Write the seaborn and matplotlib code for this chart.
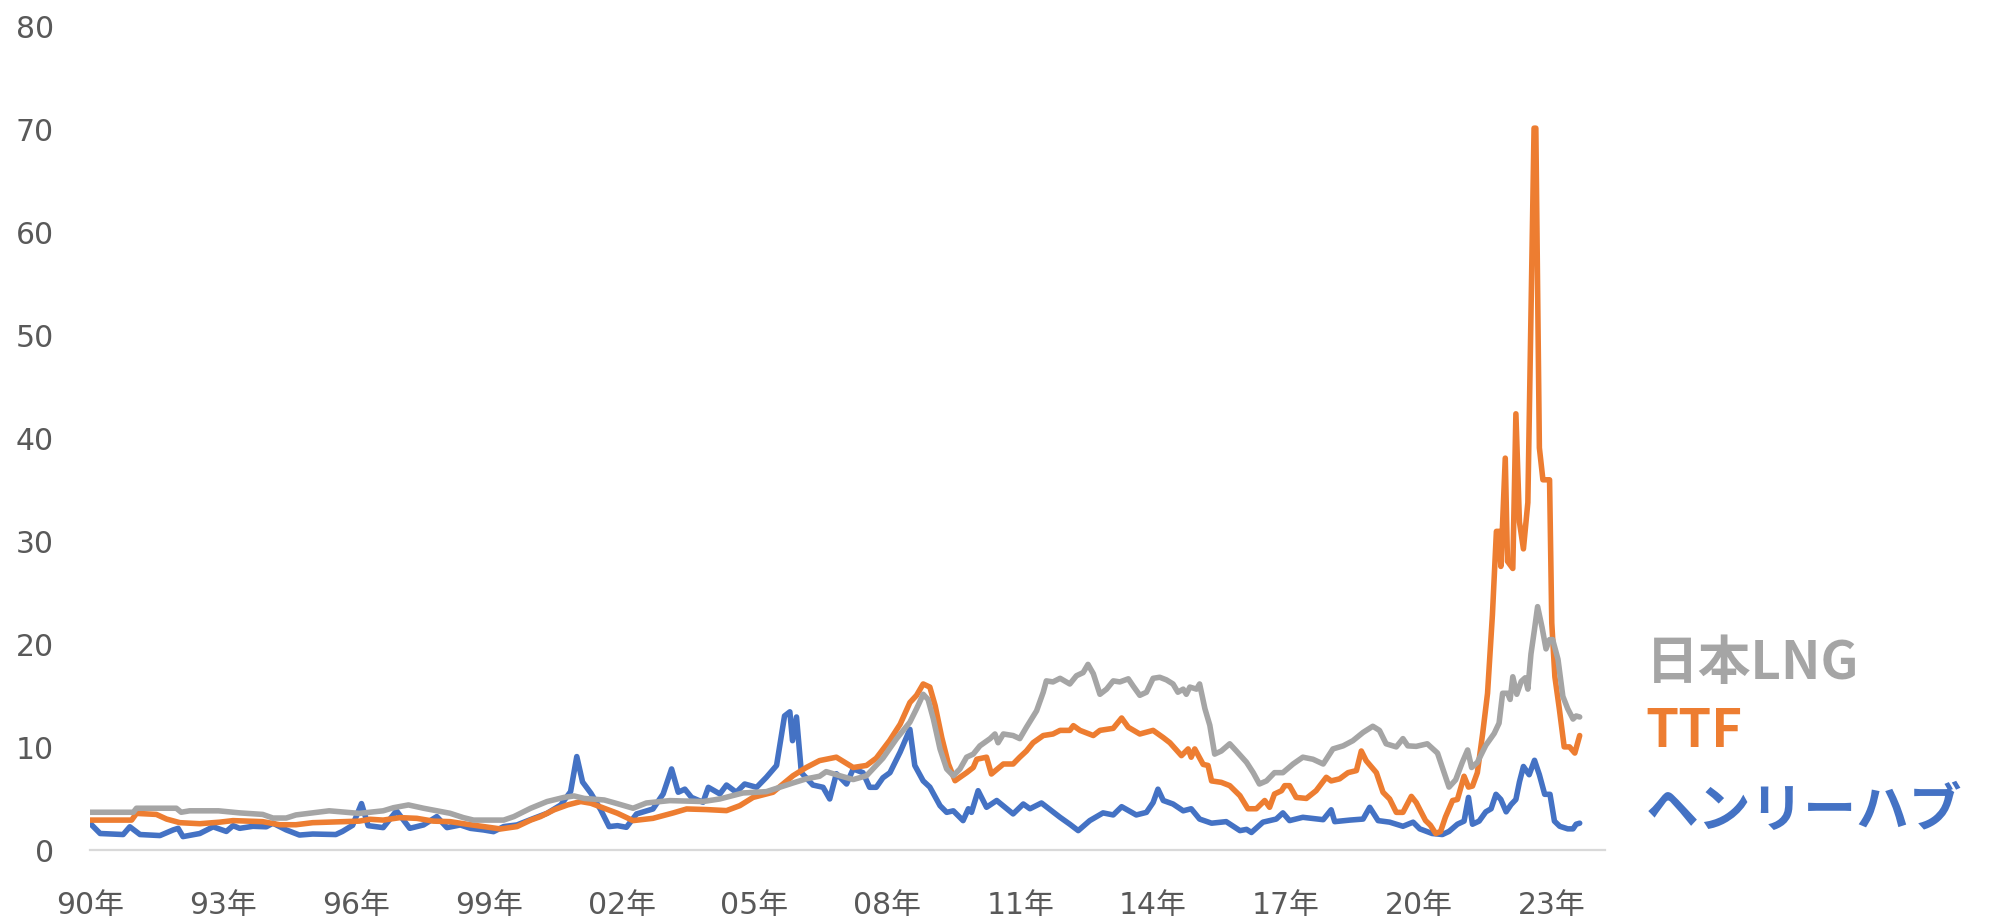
import matplotlib
matplotlib.use("Agg")
import matplotlib.pyplot as plt
import numpy as np
import pandas as pd
import seaborn as sns

# 日本LNG（灰）
lng_year = [1990.0, 1990.98, 1991.05, 1991.95, 1992.06, 1992.25, 1992.9, 1993.38, 1993.9, 1994.13,
            1994.43, 1994.65, 1995.4, 1996.08, 1996.62, 1996.85, 1997.19, 1997.53, 1997.83, 1998.13,
            1998.43, 1998.66, 1999.34, 1999.57, 1999.95, 2000.32, 2000.7, 2000.93, 2001.16, 2001.61,
            2001.9, 2002.26, 2002.56, 2003.09, 2003.84, 2004.22, 2004.74, 2005.27, 2005.57, 2005.87,
            2006.17, 2006.47, 2006.62, 2006.93, 2007.23, 2007.53, 2007.9, 2008.21, 2008.51, 2008.66,
            2008.81, 2008.92, 2009.04, 2009.19, 2009.34, 2009.49, 2009.64, 2009.79, 2009.94, 2010.09,
            2010.32, 2010.43, 2010.5, 2010.62, 2010.84, 2010.99, 2011.14, 2011.37, 2011.52, 2011.59,
            2011.74, 2011.9, 2012.12, 2012.27, 2012.42, 2012.53, 2012.65, 2012.8, 2012.95, 2013.1,
            2013.25, 2013.44, 2013.55, 2013.7, 2013.85, 2014.0, 2014.15, 2014.3, 2014.45, 2014.56,
            2014.68, 2014.75, 2014.83, 2014.98, 2015.05, 2015.17, 2015.28, 2015.39, 2015.54, 2015.73,
            2015.88, 2016.11, 2016.26, 2016.4, 2016.56, 2016.74, 2016.93, 2017.16, 2017.38, 2017.61,
            2017.84, 2018.06, 2018.29, 2018.51, 2018.74, 2018.96, 2019.11, 2019.26, 2019.49, 2019.64,
            2019.75, 2019.94, 2020.19, 2020.42, 2020.57, 2020.68, 2020.83, 2020.98, 2021.1, 2021.19,
            2021.32, 2021.51, 2021.7, 2021.81, 2021.89, 2022.0, 2022.06, 2022.12, 2022.21, 2022.31,
            2022.4, 2022.46, 2022.53, 2022.61, 2022.68, 2022.78, 2022.87, 2022.95, 2023.02, 2023.14,
            2023.25, 2023.36, 2023.48, 2023.55, 2023.63]
lng_price = [3.66, 3.66, 4.05, 4.05, 3.66, 3.8, 3.8, 3.6, 3.45, 3.1,
             3.1, 3.4, 3.8, 3.55, 3.8, 4.1, 4.37, 4.05, 3.8, 3.56,
             3.14, 2.9, 2.9, 3.24, 4.05, 4.7, 5.1, 5.24, 5.0, 4.85,
             4.5, 4.05, 4.56, 4.79, 4.7, 4.95, 5.53, 5.66, 6.08, 6.5,
             6.9, 7.15, 7.6, 7.2, 6.83, 7.2, 8.9, 10.8, 12.4, 13.7,
             15.1, 14.6, 12.7, 9.8, 7.86, 7.2, 7.86, 9.0, 9.3, 10.1,
             10.8, 11.25, 10.4, 11.25, 11.1, 10.8, 11.9, 13.5, 15.3, 16.4,
             16.3, 16.65, 16.1, 16.9, 17.2, 18.0, 17.1, 15.1, 15.6, 16.4,
             16.3, 16.6, 15.9, 15.0, 15.3, 16.65, 16.75, 16.5, 16.1, 15.3,
             15.6, 15.1, 15.8, 15.6, 16.1, 13.7, 12.1, 9.3, 9.6, 10.3,
             9.6, 8.5, 7.5, 6.4, 6.7, 7.5, 7.5, 8.34, 9.0, 8.8,
             8.34, 9.8, 10.1, 10.6, 11.4, 12.0, 11.6, 10.3, 10.0, 10.8,
             10.1, 10.05, 10.3, 9.4, 7.5, 6.1, 6.8, 8.5, 9.7, 8.0,
             8.5, 10.15, 11.3, 12.3, 15.2, 15.2, 14.6, 16.8, 15.1, 16.35,
             16.7, 15.6, 19.0, 21.4, 23.6, 21.6, 19.5, 20.4, 20.4, 18.5,
             14.9, 13.7, 12.7, 13.0, 12.9]

# TTF（橙）
ttf_year = [1990.0, 1990.94, 1991.05, 1991.28, 1991.5, 1991.73, 1992.03, 1992.48, 1992.93, 1993.23,
            1993.9, 1994.28, 1994.65, 1995.03, 1996.08, 1996.32, 1996.62, 1997.0, 1997.38, 1997.75,
            1998.13, 1998.51, 1998.89, 1999.27, 1999.64, 1999.95, 2000.17, 2000.48, 2000.78, 2001.08,
            2001.31, 2001.61, 2001.91, 2002.26, 2002.71, 2003.17, 2003.47, 2003.92, 2004.37, 2004.67,
            2004.97, 2005.42, 2005.87, 2006.17, 2006.47, 2006.85, 2007.23, 2007.53, 2007.75, 2008.05,
            2008.29, 2008.51, 2008.66, 2008.81, 2008.96, 2009.08, 2009.23, 2009.38, 2009.53, 2009.79,
            2009.94, 2010.02, 2010.24, 2010.35, 2010.62, 2010.84, 2010.99, 2011.14, 2011.29, 2011.52,
            2011.74, 2011.9, 2012.12, 2012.2, 2012.35, 2012.65, 2012.8, 2013.1, 2013.29, 2013.44,
            2013.7, 2014.0, 2014.23, 2014.38, 2014.64, 2014.79, 2014.86, 2014.94, 2015.13, 2015.24,
            2015.32, 2015.54, 2015.73, 2015.96, 2016.14, 2016.33, 2016.52, 2016.63, 2016.74, 2016.9,
            2016.97, 2017.08, 2017.23, 2017.46, 2017.68, 2017.91, 2018.02, 2018.21, 2018.4, 2018.59,
            2018.7, 2018.81, 2019.04, 2019.19, 2019.34, 2019.49, 2019.64, 2019.83, 2019.94, 2020.15,
            2020.26, 2020.38, 2020.49, 2020.6, 2020.76, 2020.87, 2021.02, 2021.12, 2021.21, 2021.32,
            2021.44, 2021.55, 2021.66, 2021.75, 2021.81, 2021.85, 2021.95, 2022.0, 2022.12, 2022.19,
            2022.27, 2022.36, 2022.46, 2022.6, 2022.64, 2022.72, 2022.8, 2022.95, 2023.0, 2023.07,
            2023.17, 2023.28, 2023.4, 2023.52, 2023.63]
ttf_price = [2.9, 2.9, 3.55, 3.5, 3.45, 3.0, 2.65, 2.55, 2.7, 2.85,
             2.75, 2.45, 2.45, 2.65, 2.8, 2.98, 2.9, 3.14, 3.07, 2.8,
             2.75, 2.5, 2.27, 2.04, 2.27, 2.9, 3.24, 3.9, 4.37, 4.7,
             4.53, 4.05, 3.56, 2.85, 3.07, 3.6, 3.98, 3.92, 3.82, 4.3,
             5.1, 5.6, 7.2, 8.0, 8.67, 9.0, 8.0, 8.2, 8.9, 10.6,
             12.2, 14.3, 15.0, 16.1, 15.8, 14.0, 10.9, 8.34, 6.72, 7.5,
             8.0, 8.8, 9.0, 7.37, 8.34, 8.34, 9.0, 9.6, 10.4, 11.1,
             11.25, 11.6, 11.6, 12.06, 11.6, 11.1, 11.6, 11.8, 12.8, 11.9,
             11.25, 11.6, 10.9, 10.4, 9.15, 9.8, 9.0, 9.8, 8.3, 8.2,
             6.7, 6.56, 6.24, 5.27, 4.0, 4.0, 4.8, 4.14, 5.43, 5.75,
             6.24, 6.24, 5.1, 5.0, 5.75, 7.05, 6.7, 6.9, 7.5, 7.7,
             9.6, 8.66, 7.5, 5.6, 4.95, 3.65, 3.65, 5.2, 4.6, 2.86,
             2.4, 1.6, 1.8, 3.2, 4.8, 4.9, 7.15, 6.1, 6.2, 7.5,
             11.3, 15.2, 22.8, 30.9, 30.9, 27.5, 38.0, 28.0, 27.3, 42.3,
             31.8, 29.2, 33.7, 70.0, 70.0, 39.0, 35.9, 35.9, 22.0, 16.8,
             13.7, 10.0, 10.0, 9.4, 11.1]

# ヘンリーハブ（青）
hh_year = [1990.0, 1990.23, 1990.75, 1990.9, 1991.13, 1991.58, 1991.88, 1991.99, 1992.1, 1992.48,
           1992.78, 1993.08, 1993.23, 1993.38, 1993.68, 1993.98, 1994.13, 1994.43, 1994.73, 1995.03,
           1995.55, 1995.7, 1995.93, 1996.13, 1996.28, 1996.62, 1996.92, 1997.22, 1997.53, 1997.83,
           1998.06, 1998.36, 1998.59, 1998.89, 1999.11, 1999.34, 1999.64, 2000.02, 2000.32, 2000.63,
           2000.85, 2000.99, 2001.12, 2001.31, 2001.53, 2001.72, 2001.91, 2002.11, 2002.34, 2002.71,
           2002.94, 2003.13, 2003.28, 2003.43, 2003.58, 2003.84, 2003.96, 2004.22, 2004.37, 2004.59,
           2004.78, 2005.05, 2005.27, 2005.5, 2005.68, 2005.8, 2005.86, 2005.95, 2006.06, 2006.32,
           2006.55, 2006.7, 2006.85, 2007.08, 2007.23, 2007.45, 2007.6, 2007.75, 2007.9, 2008.06,
           2008.29, 2008.51, 2008.62, 2008.81, 2008.96, 2009.19, 2009.34, 2009.49, 2009.71, 2009.83,
           2009.9, 2010.05, 2010.24, 2010.47, 2010.84, 2011.07, 2011.22, 2011.48, 2011.9, 2012.12,
           2012.31, 2012.57, 2012.87, 2013.1, 2013.29, 2013.62, 2013.85, 2014.0, 2014.11, 2014.23,
           2014.45, 2014.68, 2014.86, 2015.05, 2015.32, 2015.65, 2015.96, 2016.11, 2016.22, 2016.48,
           2016.78, 2016.93, 2017.08, 2017.38, 2017.84, 2018.02, 2018.1, 2018.44, 2018.74, 2018.89,
           2019.08, 2019.34, 2019.64, 2019.87, 2020.02, 2020.3, 2020.53, 2020.68, 2020.87, 2021.02,
           2021.12, 2021.21, 2021.36, 2021.51, 2021.63, 2021.74, 2021.85, 2021.97, 2022.08, 2022.19,
           2022.27, 2022.36, 2022.49, 2022.61, 2022.72, 2022.84, 2022.96, 2023.06, 2023.18, 2023.36,
           2023.48, 2023.55, 2023.63]
hh_price = [2.6, 1.6, 1.5, 2.25, 1.5, 1.4, 1.95, 2.1, 1.3, 1.6,
            2.25, 1.8, 2.36, 2.1, 2.3, 2.25, 2.6, 1.95, 1.45, 1.55,
            1.5, 1.8, 2.4, 4.5, 2.36, 2.17, 3.8, 2.1, 2.43, 3.24,
            2.17, 2.43, 2.1, 1.94, 1.78, 2.27, 2.43, 3.07, 3.56, 4.37,
            5.66, 9.06, 6.6, 5.5, 3.9, 2.27, 2.36, 2.2, 3.5, 3.98,
            5.44, 7.86, 5.6, 5.9, 5.1, 4.63, 6.08, 5.44, 6.3, 5.6,
            6.4, 6.08, 7.05, 8.2, 13.0, 13.4, 10.6, 12.9, 7.5, 6.3,
            6.08, 4.95, 7.4, 6.4, 7.86, 7.5, 6.08, 6.08, 7.0, 7.5,
            9.5, 11.7, 8.2, 6.7, 6.1, 4.3, 3.65, 3.8, 2.85, 4.0,
            3.65, 5.75, 4.14, 4.8, 3.5, 4.46, 4.0, 4.56, 3.17, 2.5,
            1.88, 2.85, 3.6, 3.4, 4.2, 3.4, 3.65, 4.6, 5.9, 4.8,
            4.46, 3.8, 4.0, 3.0, 2.6, 2.75, 1.88, 2.0, 1.7, 2.7,
            3.0, 3.6, 2.85, 3.17, 2.94, 3.9, 2.75, 2.9, 3.0, 4.14,
            2.85, 2.7, 2.3, 2.7, 2.05, 1.6, 1.5, 1.8, 2.5, 2.8,
            5.1, 2.5, 2.8, 3.7, 4.0, 5.4, 4.9, 3.7, 4.4, 4.9,
            6.6, 8.1, 7.3, 8.7, 7.3, 5.4, 5.4, 2.8, 2.3, 2.05,
            2.05, 2.5, 2.6]

series_names = ["日本LNG", "TTF", "ヘンリーハブ"]
series_colors = ["#A5A5A5", "#ED7D31", "#4472C4"]
tick_years = list(range(1990, 2024, 3))
tick_labels = [f"{y % 100:02d}年" for y in tick_years]

sns.set_theme(style="white")
plt.rcParams['font.family'] = ['DejaVu Sans', 'Noto Sans CJK JP']

fig = plt.figure(figsize=(19.9, 9.2), dpi=100)
ax = fig.add_axes([0.0452, 0.075, 0.7613, 0.8967])

line_kw = dict(linewidth=4.0, estimator=None, sort=False, legend=False, ax=ax)
# 描画順: 青 → 橙 → 灰
sns.lineplot(x=hh_year, y=hh_price, color=series_colors[2], zorder=3, **line_kw)
sns.lineplot(x=ttf_year, y=ttf_price, color=series_colors[1], zorder=4, **line_kw)
sns.lineplot(x=lng_year, y=lng_price, color=series_colors[0], zorder=5, **line_kw)
for ln in ax.lines:
    ln.set_solid_joinstyle('round')
    ln.set_solid_capstyle('round')

ax.set_xlim(1990, 2024.2)
ax.set_ylim(0, 80)
ax.set_yticks(range(0, 81, 10))
ax.set_xticks(tick_years)
ax.set_xticklabels(tick_labels)
ax.set_xlabel("")
ax.set_ylabel("")
ax.grid(False)

for s in ["top", "right", "left"]:
    ax.spines[s].set_visible(False)
ax.spines["bottom"].set_color("#D9D9D9")
ax.spines["bottom"].set_linewidth(1.6)

ax.tick_params(axis="y", length=0, pad=26, labelsize=21.5, labelcolor="#595959")
ax.tick_params(axis="x", length=8.5, width=1.6, color="#D9D9D9", direction="out",
               pad=20, labelsize=21.5, labelcolor="#595959")

# 系列名ラベル
label_y = [0.279, 0.2054, 0.1174]
for name, col, yy in zip(series_names, series_colors, label_y):
    fig.text(0.827, yy, name, color=col, fontsize=38, fontweight="bold",
             va="center", ha="left", family=['Noto Sans CJK JP', 'DejaVu Sans'])

fig.savefig("out.png", dpi=100)
